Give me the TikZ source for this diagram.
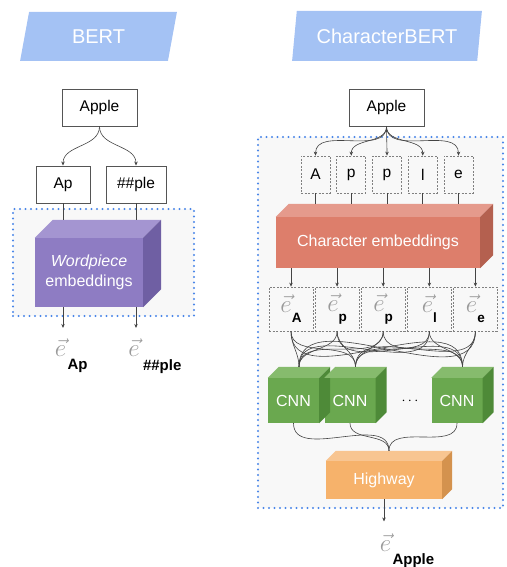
\documentclass[tikz,border=0pt]{standalone}
\usepackage{fontspec}
\setmainfont{Liberation Sans}
\usetikzlibrary{arrows.meta,shapes.geometric}
\definecolor{bannerblue}{HTML}{A4C2F4}
\definecolor{linedark}{HTML}{444444}
\definecolor{boxgray}{HTML}{555555}
\definecolor{dashgray}{HTML}{808080}
\definecolor{vecgray}{HTML}{9A9A9A}
\definecolor{panelgray}{HTML}{F8F8F8}
\definecolor{dotblue}{HTML}{4A86E8}
\definecolor{wp}{HTML}{8E7CC3}
\definecolor{wptop}{HTML}{A495D1}
\definecolor{wpside}{HTML}{6F5FA3}
\definecolor{ce}{HTML}{DD7E6B}
\definecolor{cetop}{HTML}{E59A8C}
\definecolor{ceside}{HTML}{B4604F}
\definecolor{cnn}{HTML}{6AA84F}
\definecolor{cnntop}{HTML}{86BB6D}
\definecolor{cnnside}{HTML}{4E8A38}
\definecolor{hw}{HTML}{F6B26B}
\definecolor{hwtop}{HTML}{F8C591}
\definecolor{hwside}{HTML}{D4924E}
\tikzset{
    banner/.style  = {trapezium, trapezium left angle=76,
        trapezium right angle=104, trapezium stretches=true,
        fill=bannerblue, text=white, inner sep=0pt,
        font=\fontsize{20}{24}\selectfont},
    wordbox/.style = {draw=boxgray, line width=0.9pt, inner sep=0pt,
        minimum height=37pt, font=\fontsize{15.5}{18}\selectfont},
    charbox/.style = {draw=dashgray, dash pattern=on 2pt off 1.5pt,
        line width=0.7pt, inner sep=0pt, minimum width=29pt,
        minimum height=37pt, font=\fontsize{15.5}{18}\selectfont},
    ebox/.style    = {charbox, minimum width=44pt, minimum height=44pt},
    block/.style   = {inner sep=0pt, text=white, align=center,
        font=\fontsize{16}{20}\selectfont},
    panel/.style   = {fill=panelgray, draw=dotblue, line width=2.1pt,
        dash pattern=on 0pt off 5.5pt, line cap=round, inner sep=0pt},
    vece/.style    = {text=vecgray, inner sep=0pt,
        font=\fontsize{27}{27}\selectfont},
    vecsub/.style  = {anchor=north west, inner sep=0pt,
        font=\bfseries\fontsize{15}{18}\selectfont},
    conn/.style    = {draw=linedark, line width=0.6pt},
    arr/.style     = {conn, -{Stealth[length=4pt,width=3.5pt]}}
}
% top and right faces of a block: node, depth, colour
\newcommand{\blockfaces}[3]{%
    \fill[#3top] (#1.north west) -- ([shift={(#2,#2)}]#1.north west)
        -- ([shift={(#2,#2)}]#1.north east) -- (#1.north east) -- cycle;
    \fill[#3side] (#1.north east) -- ([shift={(#2,#2)}]#1.north east)
        -- ([shift={(#2,#2)}]#1.south east) -- (#1.south east) -- cycle;
    \coordinate (#1-back) at ([shift={(#2/2,#2)}]#1.north);
}

\begin{document}
\begin{tikzpicture}[x=1pt, y=1pt]
    \useasboundingbox (0,0) rectangle (506,567);

    % BERT
    \node[banner, minimum width=157pt, minimum height=49pt] (bert) at (98.5,530.5) {BERT};
    \node[panel, minimum width=181pt, minimum height=107pt] (bert-panel) at (103.5,304.5) {};
    \node[wordbox, minimum width=75pt] (apple-l) at (99.5,459.5) {Apple};
    \node[wordbox, minimum width=54pt] (ap) at (63,382.5) {Ap};
    \node[wordbox, minimum width=60pt] (ple) at (136,382.5) {\#\#ple};
    \node[block, fill=wp, minimum width=108pt, minimum height=69pt] (wpe) at (89,294.5)
        {\textit{Wordpiece}\\embeddings};
    \blockfaces{wpe}{18}{wp}
    \node[vece] (e-ap) at (60.5,219) {$\vec{e}$};
    \node[vecsub] (e-ap-sub) at ([shift={(1pt,-2pt)}]e-ap.south east) {Ap};
    \node[vece] (e-ple) at (134,219) {$\vec{e}$};
    \node[vecsub] (e-ple-sub) at ([shift={(3pt,-2pt)}]e-ple.south east) {\#\#ple};

    \draw[arr] (apple-l.south) to[out=-90, in=90] (ap.north);
    \draw[arr] (apple-l.south) to[out=-90, in=90] (ple.north);
    \draw[conn] (ap.south) -- (ap.south |- wpe-back);
    \draw[conn] (ple.south) -- (ple.south |- wpe-back);
    \draw[arr, shorten >=11pt] (wpe.south -| ap) -- (ap |- e-ap.north);
    \draw[arr, shorten >=11pt] (wpe.south -| ple) -- (ple |- e-ple.north);

    % CharacterBERT
    \node[banner, minimum width=190pt, minimum height=50pt] (cbert) at (387,531) {CharacterBERT};
    \node[panel, minimum width=245pt, minimum height=371pt] (cbert-panel) at (380.5,244.5) {};
    \node[wordbox, minimum width=75pt] (apple-r) at (386.5,459.5) {Apple};
    \foreach \ch [count=\i] in {A,p,p,l,e}
        \node[charbox] (c\i) at ({315.5+35.75*(\i-1)},392.5) {\ch};
    \node[block, fill=ce, minimum width=204pt, minimum height=51pt] (chemb) at (378,324.5)
        {Character embeddings};
    \blockfaces{chemb}{13}{ce}
    \foreach \ch [count=\i] in {A,p,p,l,e}
        \node[ebox] (e\i) at ({291+46.1*(\i-1)},258)
            {\textcolor{vecgray}{\fontsize{24}{24}\selectfont$\vec{e}$}\raisebox{-10pt}{\bfseries\fontsize{13.5}{15}\selectfont\ch}};
    \node[block, fill=cnn, minimum width=51pt, minimum height=45pt] (k1) at (293.5,166.5) {CNN};
    \node[block, fill=cnn, minimum width=51pt, minimum height=45pt] (k2) at (350,166.5) {CNN};
    \node[block, fill=cnn, minimum width=51pt, minimum height=45pt] (k3) at (457,166.5) {CNN};
    \foreach \k in {1,2,3} {\blockfaces{k\k}{11}{cnn}}
    \node[font=\fontsize{15}{18}\selectfont] (dots) at (410,166) {$\cdots$};
    \node[block, fill=hw, minimum width=116pt, minimum height=38pt] (hwy) at (384,87) {Highway};
    \blockfaces{hwy}{10}{hw}
    \node[vece] (e-apple) at (385.5,24.5) {$\vec{e}$};
    \node[vecsub] (e-apple-sub) at ([shift={(1pt,-2pt)}]e-apple.south east) {Apple};

    \foreach \i in {1,...,5} {
        \draw[arr] (apple-r.south) to[out=-90, in=90] (c\i.north);
        \draw[conn] (c\i.south) -- (c\i.south |- chemb-back);
        \draw[arr] (chemb.south -| e\i) -- (e\i.north);
        \foreach \k in {1,2,3}
            \draw[conn] (e\i.south) to[out=-90, in=90] (k\k-back);
    }
    \foreach \k in {1,2,3}
        \draw[conn] (k\k.south) to[out=-90, in=90] (hwy-back);
    \draw[arr, shorten >=12pt] (hwy.south) -- (e-apple.north -| hwy.south);
\end{tikzpicture}
\end{document}
